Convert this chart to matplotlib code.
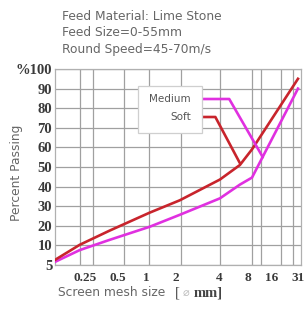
import numpy as np
import matplotlib
matplotlib.use("Agg")
import matplotlib.pyplot as plt
from matplotlib.patches import Rectangle

# ---- data ----
title_lines = ["Feed Material: Lime Stone", "Feed Size=0-55mm", "Round Speed=45-70m/s"]
soft_x = [0.134, 0.225, 0.42, 1.07, 2.13, 4.1, 6.6, 9.0, 31]
soft_y = [6.3, 10.3, 17.5, 26.7, 33, 43.6, 51, 59, 95]
medium_x = [0.134, 0.225, 0.42, 1.07, 2.13, 4.1, 6.6, 9.0, 31]
medium_y = [5.8, 8.8, 12.8, 19.5, 25.6, 34, 41, 44.6, 90]
x_tick_values = [0.25, 0.5, 1, 2, 4, 8, 16, 31]
x_tick_labels = ["0.25", "0.5", "1", "2", "4", "8", "16", "31"]
y_tick_values = [5, 10, 20, 30, 40, 50, 60, 70, 80, 90, 100]
y_tick_labels = ["5", "10", "20", "30", "40", "50", "60", "70", "80", "90", "%100"]

# ---- irregular hand-drawn axes (scale definitions) ----
_xv = np.log2([0.125, 0.25, 0.5, 1, 2, 4, 8, 16, 31, 62])
_xp = np.array([52, 85, 118, 147, 176, 219, 248, 272, 298, 324], dtype=float)

def xfwd(v):
    v = np.clip(np.asarray(v, dtype=float), 1e-6, None)
    return np.interp(np.log2(v), _xv, _xp)

def xinv(p):
    return 2.0 ** np.interp(np.asarray(p, dtype=float), _xp, _xv)

def yfwd(v):
    v = np.asarray(v, dtype=float)
    return np.where(v >= 10, v / 10.0, (v - 5) / 5.0)

def yinv(p):
    p = np.asarray(p, dtype=float)
    return np.where(p >= 1, p * 10.0, p * 5.0 + 5)

W, H = 306, 312
fig = plt.figure(figsize=(W / 100, H / 100), dpi=100)
L, R, T, B = 55, 301, 69, 265
ax = fig.add_axes([L / W, 1 - B / H, (R - L) / W, (B - T) / H])
ax.set_xscale("function", functions=(xfwd, xinv))
ax.set_yscale("function", functions=(yfwd, yinv))
ax.set_xlim(0.134, 33.6)
ax.set_ylim(5, 100)

grid_c = "#a0a0a0"
# vertical grid lines (as minor ticks)
grid_x = [0.227, 0.296, 0.577, 1.05, 2.17, 4.1, 9.0, 11.6, 20.3, 27.3]
ax.set_xticks(grid_x, minor=True)
ax.set_xticks(x_tick_values)
ax.set_xticklabels(x_tick_labels)
ax.set_yticks(y_tick_values)
ax.set_yticklabels(y_tick_labels)
ax.grid(False)
ax.xaxis.grid(True, which="minor", color=grid_c, lw=0.9)
ax.yaxis.grid(True, which="major", color=grid_c, lw=0.9)
ax.tick_params(axis="both", which="both", length=0)
ax.tick_params(axis="x", pad=5, labelsize=9.5, labelcolor="#3a3a3a")
ax.tick_params(axis="y", pad=2, labelsize=10.5, labelcolor="#3a3a3a")
for lab in ax.get_xticklabels() + ax.get_yticklabels():
    lab.set_family("Liberation Serif")
    lab.set_weight("bold")
for s in ax.spines.values():
    s.set_color("#b0b0b0")
    s.set_linewidth(0.9)
ax.set_axisbelow(True)

red = "#c8242c"
mag = "#e030e0"
ax.plot(medium_x, medium_y, color=mag, lw=1.9, zorder=3)
ax.plot(soft_x, soft_y, color=red, lw=1.9, zorder=3)

# label box with leader lines
fig.patches.append(Rectangle((138 / W, 1 - 133 / H), 64 / W, 47 / H, transform=fig.transFigure,
                             facecolor="white", edgecolor="#cfcfcf", lw=0.9, zorder=5))
fig.text(191 / W, 1 - 99 / H, "Medium", ha="right", va="center", fontsize=7.5,
         color="#555555", zorder=6)
fig.text(191 / W, 1 - 117 / H, "Soft", ha="right", va="center", fontsize=7.5,
         color="#555555", zorder=6)
ax.annotate("", xy=(12.3, 55), xycoords="data", xytext=(202 / W, 1 - 99 / H),
            textcoords="figure fraction",
            arrowprops=dict(arrowstyle="-", color=mag, lw=1.9, shrinkA=0, shrinkB=0,
                            connectionstyle="angle,angleA=0,angleB=-60,rad=0"), zorder=4)
ax.annotate("", xy=(6.6, 52), xycoords="data", xytext=(202 / W, 1 - 117 / H),
            textcoords="figure fraction",
            arrowprops=dict(arrowstyle="-", color=red, lw=1.9, shrinkA=0, shrinkB=0,
                            connectionstyle="angle,angleA=0,angleB=-62,rad=0"), zorder=4)

# titles and axis labels
for i, line in enumerate(title_lines):
    fig.text(62 / W, 1 - (16 + 17 * i) / H, line, ha="left", va="center",
             fontsize=8.8, color="#666666")
fig.text(17 / W, 1 - 173 / H, "Percent Passing", rotation=90, ha="center", va="center",
         fontsize=8.8, color="#666666")
fig.text(58 / W, 1 - 293 / H, "Screen mesh size", ha="left", va="center",
         fontsize=8.8, color="#666666")
fig.text(175 / W, 1 - 293 / H, "[", ha="left", va="center", fontsize=10.5,
         family="Liberation Serif", color="#444444")
fig.text(183 / W, 1 - 293 / H, "\u2300", ha="left", va="center", fontsize=8,
         family="DejaVu Sans", color="#bbbbbb")
fig.text(194 / W, 1 - 293 / H, "mm]", ha="left", va="center", fontsize=10.5,
         family="Liberation Serif", weight="bold", color="#444444")

fig.savefig("out.png", dpi=100)
